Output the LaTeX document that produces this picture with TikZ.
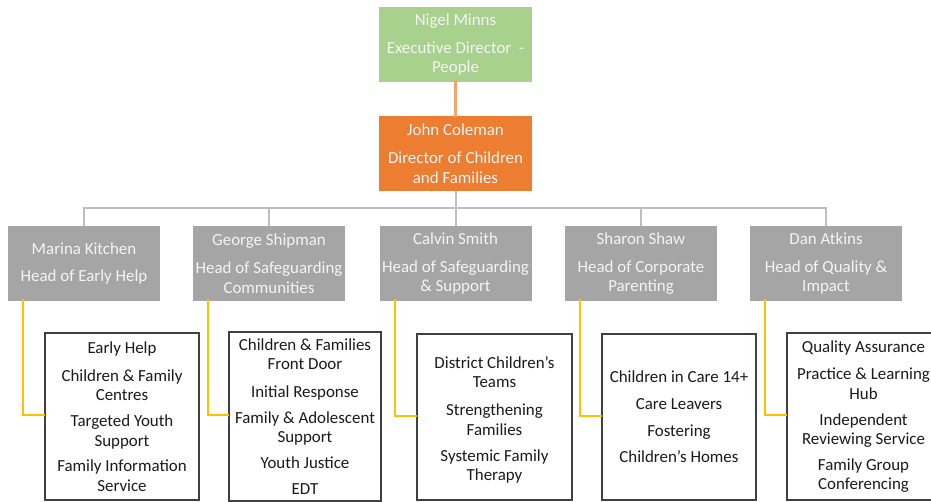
\documentclass[tikz,border=0pt]{standalone}
\usepackage{fontspec}
\setmainfont{Carlito}
\definecolor{cgreen}{HTML}{A9D18E}
\definecolor{corange}{HTML}{ED7D31}
\definecolor{corline}{HTML}{F4A46C}
\definecolor{cgray}{HTML}{A5A5A5}
\definecolor{cbus}{HTML}{BFBFBF}
\definecolor{cyel}{HTML}{FFC000}
\definecolor{cedge}{HTML}{404040}
\definecolor{cwtext}{HTML}{F4F4F4}
\definecolor{cbtext}{HTML}{1A1A1A}
\tikzset{
  basebox/.style={rectangle, inner sep=0pt, outer sep=0pt, align=center,
    font=\fontsize{16.9}{19.5}\selectfont},
  boxgreen/.style={basebox, fill=cgreen, text=cwtext, minimum width=153pt, minimum height=75pt},
  boxorange/.style={basebox, fill=corange, text=cwtext, minimum width=153pt, minimum height=75pt},
  boxgray/.style={basebox, fill=cgray, text=cwtext, minimum width=152pt, minimum height=75pt},
  boxlist/.style={basebox, draw=cedge, line width=1.5pt, text=cbtext, minimum height=167pt},
  orline/.style={draw=corline, line width=2.5pt},
  busline/.style={draw=cbus, line width=2pt},
  yelline/.style={draw=cyel, line width=2pt},
}
\begin{document}
\begin{tikzpicture}[x=1pt,y=-1pt]
\useasboundingbox (0,0) rectangle (931,502);
\clip (0,0) rectangle (931,502);
\fill[white] (0,0) rectangle (931,502);

\node[boxgreen] (nm) at (455.5,44.5) {Nigel Minns\\[8.5pt]Executive Director\ \ -\\People};
\node[boxorange] (jc) at (455.5,153.5) {John Coleman\\[8.5pt]Director of Children\\and Families};

\node[boxgray] (g1) at (84,263.5) {Marina Kitchen\\[8pt]Head of Early Help};
\node[boxgray] (g2) at (269,263.5) {George Shipman\\[8.5pt]Head of Safeguarding\\Communities};
\node[boxgray] (g3) at (455.5,263.5) {Calvin Smith\\[8.5pt]Head of Safeguarding\\\& Support};
\node[boxgray] (g4) at (641,263.5) {Sharon Shaw\\[8.5pt]Head of Corporate\\Parenting};
\node[boxgray] (g5) at (826,263.5) {Dan Atkins\\[8.5pt]Head of Quality \&\\Impact};

\node[boxlist, minimum width=154pt] (b1) at (122,416.5) {Early Help\\[8pt]Children \& Family\\Centres\\[6.5pt]Targeted Youth\\Support\\[6pt]Family Information\\Service};
\node[boxlist, minimum width=152pt, minimum height=169pt] (b2) at (305,416.5) {Children \& Families\\Front Door\\[8pt]Initial Response\\[6.5pt]Family \& Adolescent\\Support\\[6.5pt]Youth Justice\\[6.5pt]EDT};
\node[boxlist, minimum width=155pt, minimum height=166pt] (b3) at (494.5,417) {\rule{0pt}{18pt}District Children’s\\Teams\\[8.5pt]Strengthening\\Families\\[6.5pt]Systemic Family\\Therapy};
\node[boxlist, minimum width=154pt, minimum height=166pt] (b4) at (679,417) {Children in Care 14+\\[7.5pt]Care Leavers\\[7.5pt]Fostering\\[6.5pt]Children’s Homes};
\node[boxlist, minimum width=153pt] (b5) at (863.5,416.5) {Quality Assurance\\[8pt]Practice \& Learning\\Hub\\[6.5pt]Independent\\Reviewing Service\\[6pt]Family Group\\Conferencing};

\draw[orline] ([yshift=1.5pt]nm.south) -- ([yshift=-1pt]jc.north);
\foreach \g in {g1,g2,g3,g4,g5}{
  \draw[busline] (jc.south) -- ++(0,17) -| (\g.north);
}
\foreach \g/\b in {g1/b1,g2/b2,g3/b3,g4/b4,g5/b5}{
  \draw[yelline] ([xshift=15pt,yshift=1.5pt]\g.south west) |- ([yshift=1.5pt]\b.west);
}
\end{tikzpicture}
\end{document}
